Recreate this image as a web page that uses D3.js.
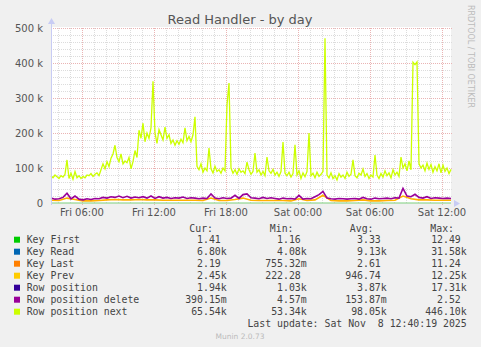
<!DOCTYPE html>
<html>
<head>
<meta charset="utf-8">
<script src="https://cdn.jsdelivr.net/npm/d3@7"></script>
<style>
  body { margin: 0; background: #f0f0f0; }
  svg { display: block; }
  text { font-family: "DejaVu Sans", sans-serif; }
  .mono { font-family: "DejaVu Sans Mono", monospace; font-size: 9.85px; fill: #444; white-space: pre; }
</style>
</head>
<body>
<div id="chart"></div>
<script>
/** DATA (values in thousands) */
// every 10 minutes
const rowNext = [78, 72, 80, 75, 70, 78, 74, 82, 123, 70, 85, 68, 90, 72, 78, 70, 76, 72, 80, 78,
  84, 76, 82, 86, 78, 95, 112, 98, 118, 104, 128, 140, 165, 130, 118, 140, 112, 120, 115, 130,
  98, 118, 150, 130, 208, 185, 228, 175, 200, 185, 215, 348, 200, 170, 210, 195, 180, 217, 185, 195,
  170, 180, 165, 178, 168, 182, 172, 215, 178, 190, 175, 195, 246, 105, 95, 112, 88, 100, 92, 157,
  98, 86, 105, 90, 95, 85, 100, 92, 280, 343, 100, 85, 95, 82, 98, 88, 92, 84, 117, 95,
  82, 90, 143, 88, 95, 80, 90, 78, 131, 92, 85, 96, 80, 88, 76, 90, 174, 85, 78, 88,
  74, 84, 166, 80, 92, 70, 86, 75, 90, 200, 78, 85, 72, 88, 76, 82, 90, 471, 80, 72,
  86, 70, 78, 66, 84, 74, 80, 70, 88, 76, 82, 123, 78, 72, 85, 80, 97, 76, 84, 70,
  80, 74, 137, 80, 70, 84, 74, 92, 78, 86, 72, 95, 80, 88, 76, 131, 100, 112, 92, 120,
  95, 402, 395, 403, 112, 100, 108, 92, 114, 96, 110, 88, 104, 92, 112, 86, 108, 90, 100, 84, 96];
// every 20 minutes
const rowDelete = [14, 11, 12, 16, 28, 12, 20, 11, 9, 12, 10, 13, 12, 16, 14, 18, 16, 20, 15, 19,
  14, 17, 15, 18, 14, 20, 13, 18, 14, 16, 13, 15, 14, 17, 13, 15, 14, 12, 14, 13,
  26, 14, 12, 15, 13, 14, 22, 13, 24, 26, 15, 14, 12, 16, 13, 15, 13, 11, 14, 12,
  13, 11, 22, 11, 13, 12, 18, 24, 33, 14, 12, 11, 13, 12, 11, 12, 13, 11, 16, 12,
  11, 14, 12, 13, 14, 12, 15, 14, 42, 20, 18, 25, 16, 14, 18, 13, 15, 14, 13, 14, 13];
// every 40 minutes
const keyPrev = [8, 7, 14, 10, 6, 6, 7, 9, 10, 9, 9, 10, 9, 9, 8, 8, 8, 8, 8, 7,
  14, 7, 7, 10, 14, 8, 7, 7, 7, 7, 6, 12, 7, 9, 22, 7, 6, 6, 7, 9,
  6, 6, 7, 8, 20, 12, 9, 9, 8, 8, 8];
const keyFirst = [0, 0];

const names = ["Key First", "Key Read", "Key Last", "Key Prev", "Row position", "Row position delete", "Row position next"];
const colors = ["#00cc00", "#0066b3", "#ff8000", "#ffcc00", "#330099", "#990099", "#ccff00"];
const cur = ["1.41 ", "6.80k", "2.19 ", "2.45k", "1.94k", "390.15m", "65.54k"];
const min = ["1.16 ", "4.08k", "755.32m", "222.28 ", "1.03k", "4.57m", "53.34k"];
const avg = ["3.33 ", "9.13k", "2.61 ", "946.74 ", "3.87k", "153.87m", "98.05k"];
const max = ["12.49 ", "31.58k", "11.24 ", "12.25k", "17.31k", "2.52 ", "446.10k"];
const yTicks = [0, 100, 200, 300, 400, 500];

const W = 481, H = 347;
const plot = { left: 51, right: 451, top: 28, bottom: 203 };
const start = new Date(2025, 10, 7, 3, 25), end = new Date(2025, 10, 8, 12, 45);
const MIN = 60000;

const svg = d3.select("#chart").append("svg").attr("width", W).attr("height", H);
svg.append("rect").attr("width", W).attr("height", H).attr("fill", "#f0f0f0");

const x = d3.scaleTime().domain([start, end]).range([plot.left, plot.right]);
const y = d3.scaleLinear().domain([0, 500]).range([plot.bottom, plot.top]);

svg.append("rect")
  .attr("x", plot.left).attr("y", plot.top - 1)
  .attr("width", plot.right - plot.left).attr("height", plot.bottom - plot.top + 1)
  .attr("fill", "#fff");

// title
svg.append("text").attr("x", 240).attr("y", 23.5).attr("text-anchor", "middle")
  .attr("font-size", 13).attr("fill", "#555").text("Read Handler - by day");

// minor grid
const minorY = d3.range(0, 501, 20).filter(v => v % 100 !== 0);
svg.append("g").selectAll("line").data(minorY).join("line")
  .attr("x1", plot.left).attr("x2", plot.right + 1)
  .attr("y1", d => Math.round(y(d)) + 0.5).attr("y2", d => Math.round(y(d)) + 0.5)
  .attr("stroke", "#dcdcdc").attr("stroke-dasharray", "1,1");
const minorX = x.ticks(d3.timeHour.every(1)).filter(d => d.getHours() % 6 !== 0);
svg.append("g").selectAll("line").data(minorX).join("line")
  .attr("x1", d => Math.round(x(d)) + 0.5).attr("x2", d => Math.round(x(d)) + 0.5)
  .attr("y1", plot.top).attr("y2", plot.bottom)
  .attr("stroke", "#dcdcdc").attr("stroke-dasharray", "1,1");

// major grid
svg.append("g").selectAll("line").data(yTicks.slice(1)).join("line")
  .attr("x1", plot.left).attr("x2", plot.right + 1)
  .attr("y1", d => Math.round(y(d)) + 0.5).attr("y2", d => Math.round(y(d)) + 0.5)
  .attr("stroke", "#eab4b4").attr("stroke-dasharray", "1,1");
const majorX = x.ticks(d3.timeHour.every(6));
svg.append("g").selectAll("line").data(majorX).join("line")
  .attr("x1", d => Math.round(x(d)) + 0.5).attr("x2", d => Math.round(x(d)) + 0.5)
  .attr("y1", plot.top).attr("y2", plot.bottom + 3)
  .attr("stroke", "#eab4b4").attr("stroke-dasharray", "1,1");

// y labels
svg.append("g").selectAll("text").data(yTicks).join("text")
  .attr("x", 43).attr("y", d => y(d) + 4).attr("text-anchor", "end")
  .attr("font-size", 10).attr("fill", "#555")
  .text(d => d === 0 ? "0" : d + " k");

// x labels
const fmt = d3.timeFormat("%a %H:%M");
svg.append("g").selectAll("text").data(majorX).join("text")
  .attr("x", d => x(d)).attr("y", 216).attr("text-anchor", "middle")
  .attr("font-size", 10).attr("fill", "#555").text(fmt);

// series
const line = step => d3.line()
  .x((d, i) => x(new Date(start.getTime() + i * step * MIN)))
  .y(d => y(d));
svg.append("path").datum(keyFirst).attr("fill", "none")
  .attr("stroke", "#7fd07f").attr("stroke-width", 1.2)
  .attr("d", line(2000));
svg.append("path").datum(keyPrev).attr("fill", "none")
  .attr("stroke", "#ffb000").attr("stroke-width", 1.6)
  .attr("d", line(40));
svg.append("path").datum(rowDelete).attr("fill", "none")
  .attr("stroke", colors[5]).attr("stroke-width", 1.6)
  .attr("d", line(20));
svg.append("path").datum(rowNext).attr("fill", "none")
  .attr("stroke", colors[6]).attr("stroke-width", 1.3)
  .attr("d", line(10));

// axes
const axisColor = "#c8ccf4";
svg.append("line").attr("x1", plot.left + 0.5).attr("x2", plot.left + 0.5)
  .attr("y1", plot.bottom + 2).attr("y2", plot.top - 5).attr("stroke", axisColor);
svg.append("path").attr("d", `M${plot.left - 3},${plot.top - 4} L${plot.left + 4},${plot.top - 4} L${plot.left + 0.5},${plot.top - 10} Z`)
  .attr("fill", axisColor);
svg.append("path").attr("d", `M${plot.right + 3},${plot.bottom - 3} L${plot.right + 3},${plot.bottom + 4} L${plot.right + 9},${plot.bottom + 0.5} Z`)
  .attr("fill", axisColor);

// side text
svg.append("text").attr("transform", "translate(468,5) rotate(90)")
  .attr("font-size", 8).attr("fill", "#bbb").text("RRDTOOL / TOBI OETIKER");

// legend
const cw = 5.93;
const heads = [["Cur:", 213], ["Min:", 293.5], ["Avg:", 373.5], ["Max:", 454]];
svg.append("g").selectAll("text").data(heads).join("text").attr("class", "mono")
  .attr("x", d => d[1]).attr("y", 231.5).attr("text-anchor", "end").text(d => d[0]);

const rows = svg.append("g").selectAll("g").data(names).join("g")
  .attr("transform", (d, i) => `translate(0,${239.7 + i * 12})`);
rows.append("rect").attr("x", 14).attr("y", -3).attr("width", 6).attr("height", 6)
  .attr("fill", (d, i) => colors[i]);
rows.append("text").attr("class", "mono").attr("x", 26.7).attr("y", 3.5).text(d => d);
[[cur, 226.7], [min, 306.7], [avg, 386.7], [max, 466.7]].forEach(([col, right]) => {
  rows.append("text").attr("class", "mono").attr("y", 3.5).attr("text-anchor", "end")
    .attr("x", (d, i) => right - (col[i].endsWith(" ") ? cw : 0))
    .text((d, i) => col[i].trim());
});

svg.append("text").attr("class", "mono").attr("x", 466.7).attr("y", 327.2)
  .attr("text-anchor", "end").text("Last update: Sat Nov  8 12:40:19 2025");
svg.append("text").attr("x", 240).attr("y", 338.5).attr("text-anchor", "middle")
  .attr("font-size", 7.5).attr("fill", "#bbb").text("Munin 2.0.73");
</script>
</body>
</html>
